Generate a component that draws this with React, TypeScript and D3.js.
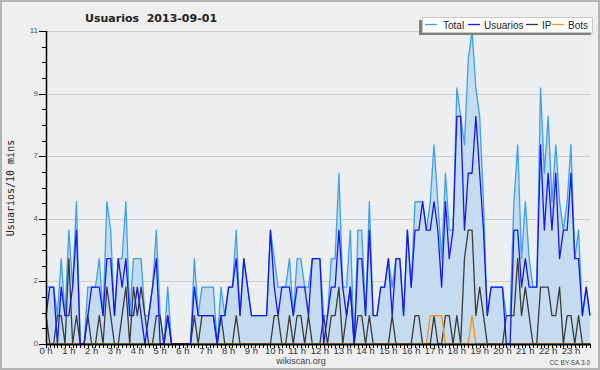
import React, { useEffect, useRef } from "react"
import * as d3 from "d3"

// values per 10 minute slot, 00:00 .. 23:50
const total = [
  2, 2, 2, 1, 3, 1, 4, 2, 5, 0,
  0, 2, 2, 2, 3, 1, 5, 4, 1, 3,
  3, 5, 1, 3, 3, 3, 1, 1, 2, 4,
  1, 0, 2, 0, 0, 0, 0, 0, 0, 3,
  1, 2, 2, 2, 2, 0, 2, 1, 2, 2,
  4, 1, 3, 2, 1, 1, 1, 1, 1, 4,
  3, 2, 2, 2, 3, 1, 3, 3, 2, 2,
  3, 3, 3, 1, 1, 3, 3, 6, 2, 2,
  4, 0, 4, 4, 1, 5, 1, 1, 2, 2,
  3, 2, 3, 3, 1, 4, 2, 5, 5, 5,
  4, 5, 7, 5, 3, 6, 4, 4, 9, 8,
  7, 10, 11, 9, 8, 5, 1, 2, 2, 2,
  2, 1, 1, 5, 7, 3, 5, 3, 2, 2,
  9, 6, 8, 5, 7, 5, 4, 5, 7, 3,
  4, 1, 2, 1,
]

const usuarios = [
  1, 2, 2, 0, 2, 1, 1, 2, 4, 0,
  0, 1, 2, 2, 2, 1, 3, 3, 1, 3,
  2, 3, 1, 1, 2, 1, 0, 1, 2, 3,
  0, 0, 1, 0, 0, 0, 0, 0, 0, 2,
  1, 1, 1, 1, 1, 0, 1, 1, 2, 2,
  3, 1, 3, 2, 1, 1, 1, 1, 1, 4,
  2, 1, 2, 2, 2, 1, 2, 2, 2, 1,
  3, 3, 3, 0, 1, 2, 2, 4, 2, 1,
  2, 0, 3, 3, 1, 4, 1, 1, 2, 2,
  3, 1, 3, 3, 1, 4, 2, 4, 4, 5,
  4, 4, 5, 4, 2, 5, 3, 4, 8, 8,
  4, 6, 6, 8, 6, 4, 1, 2, 2, 2,
  2, 0, 0, 4, 4, 2, 3, 2, 2, 2,
  7, 4, 6, 4, 6, 3, 4, 4, 6, 3,
  3, 1, 2, 1,
]

const ip = [
  1, 0, 0, 1, 1, 0, 3, 0, 1, 0,
  0, 1, 0, 0, 1, 0, 2, 1, 0, 0,
  1, 2, 0, 2, 1, 2, 1, 0, 0, 1,
  1, 0, 1, 0, 0, 0, 0, 0, 0, 1,
  0, 1, 1, 1, 1, 0, 1, 0, 0, 0,
  1, 0, 0, 0, 0, 0, 0, 0, 0, 0,
  1, 1, 0, 0, 1, 0, 1, 1, 0, 1,
  0, 0, 0, 1, 0, 1, 1, 2, 0, 1,
  2, 0, 1, 1, 0, 1, 0, 0, 0, 0,
  0, 1, 0, 0, 0, 0, 0, 1, 1, 0,
  0, 0, 1, 0, 0, 1, 1, 0, 1, 0,
  3, 4, 4, 1, 2, 1, 0, 0, 0, 0,
  0, 1, 1, 1, 3, 1, 2, 1, 0, 0,
  2, 2, 2, 1, 1, 2, 0, 1, 1, 0,
  1, 0, 0, 0,
]

const bots = [
  0, 0, 0, 0, 0, 0, 0, 0, 0, 0,
  0, 0, 0, 0, 0, 0, 0, 0, 0, 0,
  0, 0, 0, 0, 0, 0, 0, 0, 0, 0,
  0, 0, 0, 0, 0, 0, 0, 0, 0, 0,
  0, 0, 0, 0, 0, 0, 0, 0, 0, 0,
  0, 0, 0, 0, 0, 0, 0, 0, 0, 0,
  0, 0, 0, 0, 0, 0, 0, 0, 0, 0,
  0, 0, 0, 0, 0, 0, 0, 0, 0, 0,
  0, 0, 0, 0, 0, 0, 0, 0, 0, 0,
  0, 0, 0, 0, 0, 0, 0, 0, 0, 0,
  0, 1, 1, 1, 1, 0, 0, 0, 0, 0,
  0, 0, 1, 0, 0, 0, 0, 0, 0, 0,
  0, 0, 0, 0, 0, 0, 0, 0, 0, 0,
  0, 0, 0, 0, 0, 0, 0, 0, 0, 0,
  0, 0, 0, 0,
]

const hourLabels = [
  "0 h", "1 h", "2 h", "3 h", "4 h", "5 h", "6 h", "7 h", "8 h", "9 h", "10 h", "11 h",
  "12 h", "13 h", "14 h", "15 h", "16 h", "17 h", "18 h", "19 h", "20 h", "21 h", "22 h", "23 h",
]

const yTicks = [0, 2.2, 4.4, 6.6, 8.8, 11]
const yTickLabels = ["0", "2", "4", "7", "9", "11"]

const seriesNames = ["Total", "Usuarios", "IP", "Bots"]
const seriesColors = ["#3d9ff0", "#1515f5", "#3a3a3a", "#f5930f"]

const W = 600
const H = 370
const left = 46
const right = 590
const top = 31
const bottom = 344

const App = () => {
  const ref = useRef<SVGSVGElement>(null)

  useEffect(() => {
    const svg = d3.select(ref.current)
    svg.selectAll("*").remove()

    const x = d3.scaleLinear().domain([0, total.length - 1]).range([left, right])
    const y = d3.scaleLinear().domain([0, 11]).range([bottom, top])

    svg.append("rect").attr("x", 0).attr("y", 0).attr("width", W).attr("height", H).attr("fill", "#efeff0")
    svg.append("rect").attr("x", left).attr("y", top).attr("width", right - left).attr("height", bottom - top).attr("fill", "#eceef0")
    svg.append("rect").attr("x", 1).attr("y", 1).attr("width", W - 2).attr("height", H - 2)
      .attr("fill", "none").attr("stroke", "#b3b3b3").attr("stroke-width", 2)

    // grid
    svg.selectAll(".grid").data(yTicks).enter().append("line")
      .attr("x1", left).attr("x2", right)
      .attr("y1", d => Math.round(y(d)) + 0.5).attr("y2", d => Math.round(y(d)) + 0.5)
      .attr("stroke", "#cdcdcd").attr("stroke-width", 1)

    // area + lines
    const idx = d3.range(total.length)
    const area = d3.area<number>().x(i => x(i)).y0(bottom).y1(i => y(total[i]))
    svg.append("path").attr("d", area(idx)).attr("fill", "#c5dcf0")

    const series = [total, usuarios, ip, bots]
    const order = [0, 2, 3, 1]
    order.forEach(k => {
      const data = series[k]
      const line = d3.line<number>().x(i => x(i)).y(i => y(data[i]))
      svg.append("path").attr("d", line(idx)).attr("fill", "none")
        .attr("stroke", seriesColors[k]).attr("stroke-width", 1.3).attr("stroke-linejoin", "round")
    })

    // y axis
    svg.append("line").attr("x1", left + 0.5).attr("x2", left + 0.5).attr("y1", top).attr("y2", bottom + 1)
      .attr("stroke", "#000").attr("stroke-width", 1.5)
    svg.selectAll(".ymin").data(d3.range(0, 20.5, 1)).enter().append("line")
      .attr("x1", d => (d % 4 === 0 ? left - 7 : left - 4)).attr("x2", left)
      .attr("y1", d => Math.round(y(d * 0.55)) + 0.5).attr("y2", d => Math.round(y(d * 0.55)) + 0.5)
      .attr("stroke", "#000").attr("stroke-width", 1)
    svg.selectAll(".ylab").data(yTicks).enter().append("text")
      .attr("x", left - 8).attr("y", d => y(d) + 2)
      .attr("text-anchor", "end").attr("font-family", "Liberation Sans, Arial, sans-serif")
      .attr("font-size", 8).attr("fill", "#555")
      .text((d, i) => yTickLabels[i])

    // x axis
    svg.append("line").attr("x1", left).attr("x2", right + 1).attr("y1", bottom + 0.5).attr("y2", bottom + 0.5)
      .attr("stroke", "#000").attr("stroke-width", 2)
    svg.selectAll(".xt").data(idx).enter().append("line")
      .attr("x1", i => Math.round(x(i)) + 0.5).attr("x2", i => Math.round(x(i)) + 0.5)
      .attr("y1", bottom).attr("y2", bottom + 4)
      .attr("stroke", "#000").attr("stroke-width", 1)
    svg.selectAll(".xl").data(hourLabels).enter().append("text")
      .attr("x", (d, i) => x(i * 6)).attr("y", 354)
      .attr("text-anchor", "middle").attr("font-family", "Liberation Sans, Arial, sans-serif")
      .attr("font-size", 9.5).attr("fill", "#333")
      .text(d => d)

    // titles
    svg.append("text").attr("x", 85).attr("y", 22)
      .attr("font-family", "DejaVu Sans, sans-serif").attr("font-weight", "bold").attr("font-size", 11)
      .attr("fill", "#222").style("white-space", "pre")
      .text("Usuarios  2013-09-01")
    svg.append("text").attr("transform", "translate(14,188) rotate(-90)")
      .attr("text-anchor", "middle").attr("font-family", "DejaVu Sans Mono, monospace")
      .attr("font-size", 10).attr("fill", "#222")
      .text("Usuarios/10 mins")
    svg.append("text").attr("x", 301).attr("y", 364).attr("text-anchor", "middle")
      .attr("font-family", "Liberation Sans, Arial, sans-serif").attr("font-size", 9).attr("fill", "#444")
      .text("wikiscan.org")
    svg.append("text").attr("x", 590).attr("y", 365).attr("text-anchor", "end")
      .attr("font-family", "Liberation Sans, Arial, sans-serif").attr("font-size", 6.5).attr("fill", "#444")
      .text("CC BY-SA 3.0")

    // legend
    const lg = svg.append("g")
    lg.append("rect").attr("x", 419).attr("y", 20).attr("width", 172).attr("height", 15).attr("fill", "#808080")
    lg.append("rect").attr("x", 422.5).attr("y", 17.5).attr("width", 170).attr("height", 15)
      .attr("fill", "#fff").attr("stroke", "#c8c8c8")
    const lineX = [425, 468, 526, 552]
    const textX = [443, 484, 542, 568]
    seriesNames.forEach((name, k) => {
      lg.append("line").attr("x1", lineX[k]).attr("x2", lineX[k] + 12).attr("y1", 24.5).attr("y2", 24.5)
        .attr("stroke", seriesColors[k]).attr("stroke-width", 1.3)
      lg.append("text").attr("x", textX[k]).attr("y", 28.5)
        .attr("font-family", "Liberation Sans, Arial, sans-serif").attr("font-size", 10).attr("fill", "#222")
        .text(name)
    })
  }, [])

  return (
    <div>
      <svg ref={ref} width={W} height={H} style={{ position: "absolute", left: 0, top: 0 }} />
    </div>
  )
}

export default App
